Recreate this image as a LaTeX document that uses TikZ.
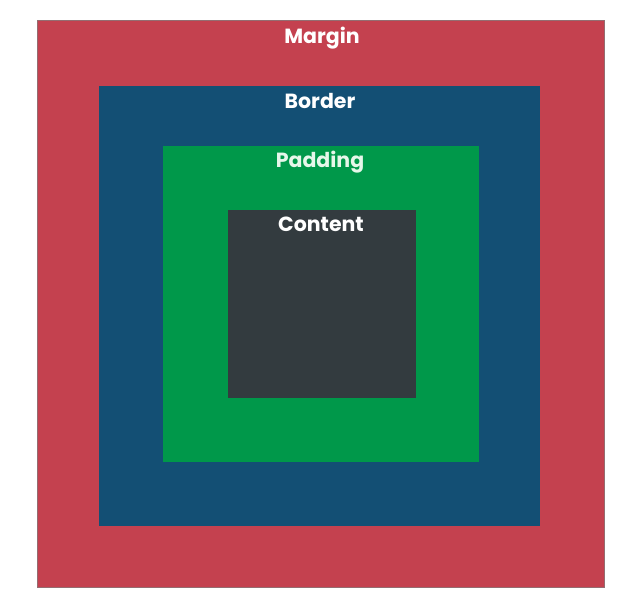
\documentclass[tikz,border=0pt]{standalone}
\usepackage{fontspec}
\setmainfont{Poppins}
\definecolor{marginc}{HTML}{C4414F}
\definecolor{borderc}{HTML}{134F74}
\definecolor{paddingc}{HTML}{00984A}
\definecolor{contentc}{HTML}{333B3F}
\definecolor{padtext}{HTML}{E6F7EA}
\tikzset{
  layer/.style={draw=none, inner sep=0pt},
  lbl/.style={font=\bfseries\fontsize{20.5}{22}\selectfont, text=white, inner sep=0pt}
}
\begin{document}
\begin{tikzpicture}[x=1pt,y=1pt]
\useasboundingbox (0,0) rectangle (631,601);
\fill[white] (0,0) rectangle (631,601);
\fill[marginc, draw=gray!70!marginc, line width=0.8pt] (37.5,601-20) rectangle (604.5,601-587.5);
\fill[borderc] (99,601-86) rectangle (540,601-526);
\fill[paddingc] (163,601-146.5) rectangle (479,601-462);
\fill[contentc] (228,601-210) rectangle (416,601-398);
\node[lbl] (m) at (322,601-38) {Margin};
\node[lbl] (b) at (320,601-101) {Border};
\node[lbl, text=padtext] (p) at (320,601-162) {Padding};
\node[lbl] (c) at (321,601-224) {Content};
\end{tikzpicture}
\end{document}
